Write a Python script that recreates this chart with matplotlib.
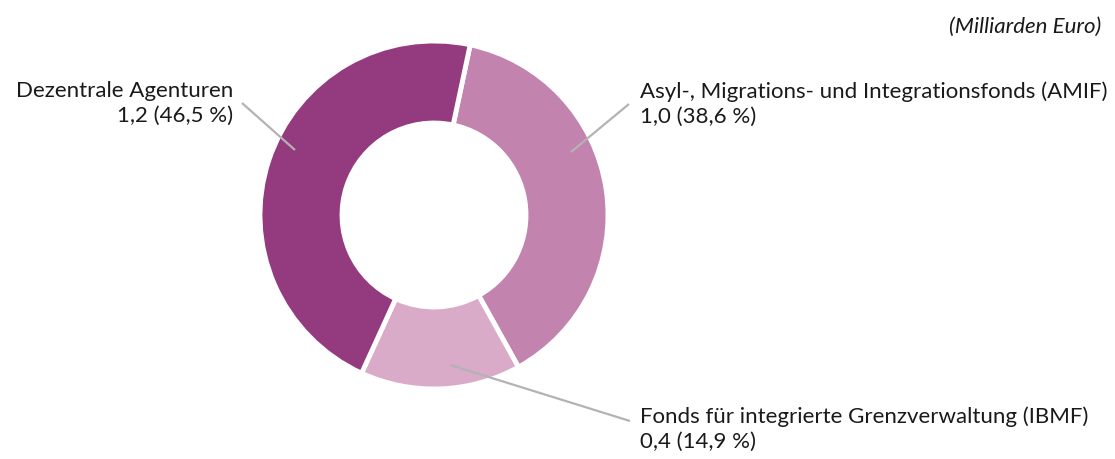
import numpy as np
import matplotlib.pyplot as plt

plt.rcParams['font.family'] = ['Lato', 'DejaVu Sans']

# data (Milliarden Euro), in drawing order clockwise from the top
names = ['Asyl-, Migrations- und Integrationsfonds (AMIF)',
         'Fonds für integrierte Grenzverwaltung (IBMF)',
         'Dezentrale Agenturen']
values = [1.0, 0.4, 1.2]
shares = [38.6, 14.9, 46.5]
colors = ['#C283AE', '#D9ABC9', '#943A7F']

W, H = 1115, 459
fig = plt.figure(figsize=(W / 100, H / 100), dpi=100)
ax = fig.add_axes([0, 0, 1, 1])

cx, cy, r_out, r_in = 434, H - 215, 174, 92
ax.pie(shares, colors=colors, startangle=78, counterclock=False,
       center=(cx, cy), radius=r_out, frame=True,
       wedgeprops=dict(width=r_out - r_in, edgecolor='white', linewidth=3.5))
ax.set_xlim(0, W)
ax.set_ylim(0, H)
ax.set_aspect('equal')
ax.axis('off')

def fmt(v):
    return f'{v:.1f}'.replace('.', ',')

# label layout: (anchor point in wedge, line end, text position, alignment)
layout = [
    dict(pt=(571, 152), line_end=(629, 104), txt=(640, 81), ha='left'),
    dict(pt=(450, 365), line_end=(630, 421), txt=(640, 406), ha='left'),
    dict(pt=(295, 150), line_end=(242, 103), txt=(233, 81), ha='right'),
]

for name, v, s, lay in zip(names, values, shares, layout):
    (x0, y0), (x1, y1) = lay['pt'], lay['line_end']
    ax.plot([x0, x1], [H - y0, H - y1], color='#b3b3b3', lw=1.6,
            solid_capstyle='butt', zorder=5)
    ax.text(lay['txt'][0], H - lay['txt'][1],
            f'{name}\n{fmt(v)} ({fmt(s)} %)',
            ha=lay['ha'], va='top', fontsize=16, color='#1a1a1a',
            linespacing=1.3, multialignment=lay['ha'])

ax.text(1101, H - 17, '(Milliarden Euro)', ha='right', va='top',
        fontsize=16, style='italic', color='#1a1a1a')

fig.savefig('out.png', dpi=100)
